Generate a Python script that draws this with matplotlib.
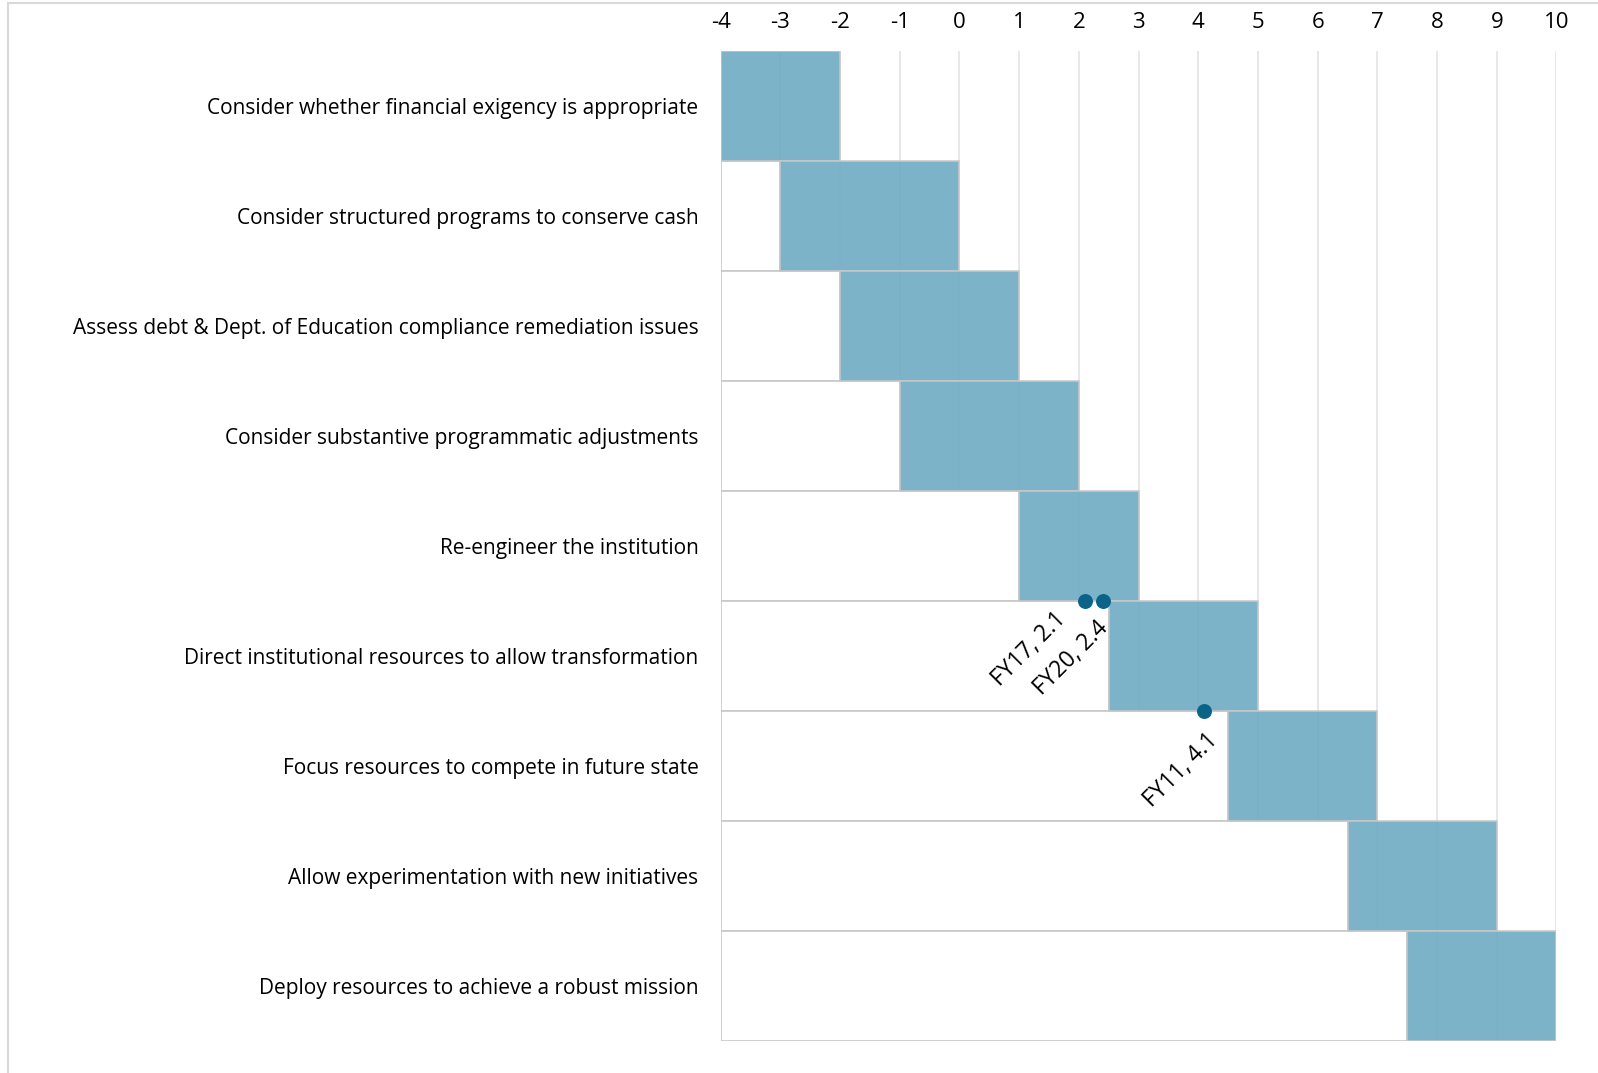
import matplotlib
matplotlib.use("Agg")
import matplotlib.pyplot as plt
from matplotlib.lines import Line2D

# Stages of the response plan and the score range each one covers
stages = [
    "Consider whether financial exigency is appropriate",
    "Consider structured programs to conserve cash",
    "Assess debt & Dept. of Education compliance remediation issues",
    "Consider substantive programmatic adjustments",
    "Re-engineer the institution",
    "Direct institutional resources to allow transformation",
    "Focus resources to compete in future state",
    "Allow experimentation with new initiatives",
    "Deploy resources to achieve a robust mission",
]
range_start = [-4, -3, -2, -1, 1, 2.5, 4.5, 6.5, 7.5]
range_end = [-2, 0, 1, 2, 3, 5, 7, 9, 10]

# Fiscal-year scores plotted on the stage boundaries
fy_labels = ["FY17", "FY20", "FY11"]
fy_scores = [2.1, 2.4, 4.1]
fy_rows = [4.5, 4.5, 5.5]

AXIS_MIN = -4
AXIS_MAX = 10

# label offsets (points) so the two close FY labels don't collide
label_offsets = {"FY17": (-40, -35), "FY20": (-23, -41), "FY11": (-17, -43)}

plt.rcParams["font.family"] = ["Open Sans", "DejaVu Sans"]
plt.rcParams["axes.unicode_minus"] = False

fig = plt.figure(figsize=(15.98, 10.73), dpi=100)
ax = fig.add_axes([0.451, 0.0298, 0.523, 0.9227])

rows = list(range(len(stages)))
lead = [s - AXIS_MIN for s in range_start]
span = [e - s for s, e in zip(range_start, range_end)]

ax.barh(rows, lead, left=AXIS_MIN, height=1.0, color="white",
        edgecolor="#c8c8c8", linewidth=1.2, zorder=2)
ax.barh(rows, span, left=range_start, height=1.0, color="#72adc5",
        alpha=0.93, edgecolor="#c8c8c8", linewidth=1.2, zorder=2)

ax.scatter(fy_scores, fy_rows, s=95, color="#0b6388", zorder=4,
           clip_on=False)
for lab, x, y in zip(fy_labels, fy_scores, fy_rows):
    ax.annotate(f"{lab}, {x}", (x, y), xytext=label_offsets[lab],
                textcoords="offset points", rotation=45,
                rotation_mode="anchor", ha="center", va="center",
                fontsize=16.5, color="black", zorder=5)

ax.set_xlim(AXIS_MIN, AXIS_MAX)
ax.set_ylim(len(stages) - 0.5, -0.5)
ax.set_xticks(range(AXIS_MIN, AXIS_MAX + 1))
ax.xaxis.tick_top()
ax.tick_params(axis="x", length=0, pad=13, labelsize=16)
ax.tick_params(axis="y", length=0, pad=16, labelsize=15)
ax.set_yticks(rows)
ax.set_yticklabels(stages)
ax.grid(axis="x", color="#e4e4e4", linewidth=1.2, zorder=1)
ax.set_axisbelow(True)
for side in ax.spines.values():
    side.set_visible(False)

# Light border round the chart area
fig.add_artist(Line2D([0.005, 0.005], [0.0, 0.997], color="#d9d9d9",
                      linewidth=1.5, transform=fig.transFigure))
fig.add_artist(Line2D([0.005, 1.0], [0.997, 0.997], color="#d9d9d9",
                      linewidth=1.5, transform=fig.transFigure))

fig.savefig("out.png", dpi=100)
